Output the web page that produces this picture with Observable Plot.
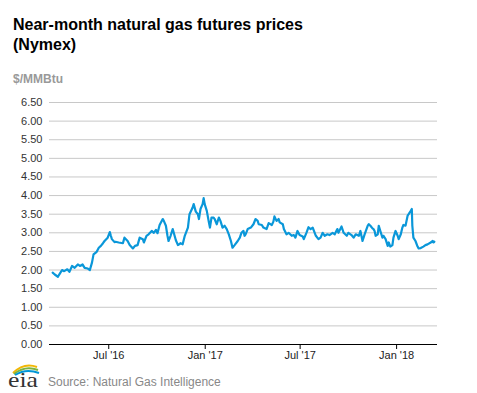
<!DOCTYPE html>
<html>
<head>
<meta charset="utf-8">
<script src="https://cdn.jsdelivr.net/npm/d3@7"></script>
<script src="https://cdn.jsdelivr.net/npm/@observablehq/plot@0.6"></script>
<style>
  html, body { margin: 0; padding: 0; background: #fff; }
  #wrap { position: relative; width: 477px; height: 393px; overflow: hidden; font-family: "Liberation Sans", Arial, sans-serif; }
  #title { position: absolute; left: 13px; top: 15px; font-size: 16px; font-weight: bold; line-height: 20px; color: #000; }
  #unit { position: absolute; left: 13px; top: 72px; font-size: 12px; font-weight: bold; color: #999; }
  #chart { position: absolute; left: 0; top: 90px; }
  #logo { position: absolute; left: 4px; top: 360px; }
  #source { position: absolute; left: 48px; top: 375px; font-size: 12px; color: #888; }
</style>
</head>
<body>
<div id="wrap">
  <div id="title">Near-month natural gas futures prices<br>(Nymex)</div>
  <div id="unit">$/MMBtu</div>
  <div id="chart"></div>
  <svg id="logo" width="42" height="32" viewBox="0 0 42 32">
    <path d="M9 13 Q20 2 33 7" fill="none" stroke="#f2b705" stroke-width="2"/>
    <path d="M10 14 Q21 5 34 10" fill="none" stroke="#7cb342" stroke-width="2"/>
    <path d="M11 15 Q22 8 35 13" fill="none" stroke="#0096d6" stroke-width="2"/>
    <text x="4" y="27" font-family="'Liberation Serif', 'DejaVu Serif', serif" font-size="21" fill="#333" textLength="30" lengthAdjust="spacingAndGlyphs">eia</text>
  </svg>
  <div id="source">Source: Natural Gas Intelligence</div>
</div>
<script>
const dates = [
  "2016-03-16","2016-03-20","2016-03-26","2016-03-30","2016-04-03","2016-04-07","2016-04-13","2016-04-17","2016-04-22","2016-04-27",
  "2016-05-03","2016-05-07","2016-05-12","2016-05-16","2016-05-22","2016-05-26","2016-05-30","2016-06-02","2016-06-08","2016-06-12",
  "2016-06-16","2016-06-20","2016-06-23","2016-06-29","2016-07-03","2016-07-05","2016-07-07","2016-07-12","2016-07-14","2016-07-20",
  "2016-07-28","2016-07-31","2016-08-06","2016-08-10","2016-08-16","2016-08-20","2016-08-25","2016-08-29","2016-09-04","2016-09-06",
  "2016-09-11","2016-09-15","2016-09-21","2016-09-25","2016-09-29","2016-10-02","2016-10-06","2016-10-12","2016-10-14","2016-10-18",
  "2016-10-21","2016-10-23","2016-10-27","2016-10-31","2016-11-02","2016-11-06","2016-11-10","2016-11-15","2016-11-19","2016-11-23",
  "2016-11-29","2016-12-02","2016-12-08","2016-12-10","2016-12-14","2016-12-18","2016-12-20","2016-12-23","2016-12-27","2016-12-29",
  "2016-12-31","2017-01-04","2017-01-08","2017-01-10","2017-01-13","2017-01-17","2017-01-19","2017-01-23","2017-01-27","2017-01-30",
  "2017-02-03","2017-02-07","2017-02-11","2017-02-15","2017-02-19","2017-02-22","2017-02-26","2017-03-04","2017-03-08","2017-03-11",
  "2017-03-15","2017-03-17","2017-03-19","2017-03-23","2017-03-29","2017-04-03","2017-04-07","2017-04-11","2017-04-13","2017-04-19",
  "2017-04-22","2017-04-28","2017-05-02","2017-05-08","2017-05-11","2017-05-13","2017-05-17","2017-05-21","2017-05-23","2017-05-29",
  "2017-05-31","2017-06-05","2017-06-09","2017-06-15","2017-06-19","2017-06-22","2017-06-26","2017-06-30","2017-07-06","2017-07-08",
  "2017-07-13","2017-07-17","2017-07-21","2017-07-25","2017-07-31","2017-08-05","2017-08-09","2017-08-13","2017-08-17","2017-08-22",
  "2017-08-26","2017-09-01","2017-09-05","2017-09-10","2017-09-12","2017-09-18","2017-09-22","2017-09-28","2017-10-01","2017-10-07",
  "2017-10-11","2017-10-15","2017-10-21","2017-10-24","2017-10-28","2017-11-01","2017-11-07","2017-11-09","2017-11-12","2017-11-16",
  "2017-11-18","2017-11-20","2017-11-22","2017-11-26","2017-11-28","2017-12-01","2017-12-05","2017-12-07","2017-12-11","2017-12-15",
  "2017-12-17","2017-12-20","2017-12-24","2017-12-26","2017-12-30","2018-01-03","2018-01-05","2018-01-09","2018-01-12","2018-01-14",
  "2018-01-18","2018-01-22","2018-01-24","2018-01-28","2018-01-30","2018-01-31","2018-02-02","2018-02-06","2018-02-10","2018-02-12",
  "2018-02-16","2018-02-21","2018-02-25","2018-03-01","2018-03-07","2018-03-11","2018-03-12","2018-03-14"
];
const prices = [
  1.93,1.88,1.82,1.91,2.00,1.97,2.02,1.95,2.11,2.06,
  2.15,2.11,2.15,2.06,2.04,2.00,2.20,2.42,2.49,2.60,
  2.65,2.72,2.78,2.87,3.02,2.92,2.83,2.75,2.76,2.74,
  2.72,2.87,2.78,2.67,2.58,2.65,2.67,2.87,2.83,2.74,
  2.92,2.96,3.05,3.00,3.08,2.99,3.21,3.37,3.32,3.19,
  2.92,2.78,2.92,3.10,3.00,2.80,2.67,2.72,2.69,2.92,
  3.14,3.50,3.68,3.77,3.57,3.50,3.37,3.64,3.77,3.93,
  3.77,3.59,3.28,3.14,3.41,3.41,3.37,3.23,3.41,3.32,
  3.14,3.19,3.10,2.96,2.78,2.60,2.67,2.78,2.87,3.00,
  3.05,2.92,2.96,3.10,3.14,3.23,3.37,3.32,3.23,3.21,
  3.14,3.10,3.26,3.21,3.30,3.44,3.32,3.37,3.28,3.23,
  3.10,2.96,3.00,2.92,2.94,2.87,3.05,2.94,2.90,2.83,
  3.00,3.15,3.10,3.14,2.92,2.83,2.87,3.00,2.92,2.96,
  2.94,3.00,2.96,3.10,3.00,3.17,3.00,2.92,3.00,2.94,
  2.87,2.96,2.92,3.05,2.78,2.96,3.19,3.23,3.19,3.12,
  3.10,3.05,2.92,2.96,3.19,3.05,2.87,2.92,2.83,2.65,
  2.74,2.63,2.67,2.87,3.05,2.92,2.83,2.96,3.14,3.21,
  3.19,3.46,3.50,3.59,3.64,3.19,2.87,2.78,2.63,2.58,
  2.59,2.63,2.67,2.69,2.74,2.78,2.74,2.76
];
const yTicks = d3.range(0, 6.5001, 0.5);
const xTicks = ["2016-07-01","2017-01-01","2017-07-01","2018-01-01"];
const xTickLabels = ["Jul '16","Jan '17","Jul '17","Jan '18"];
const xDomain = ["2016-03-10","2018-03-20"];

const parse = d3.utcParse("%Y-%m-%d");
const data = dates.map((d, i) => ({date: parse(d), price: prices[i]}));
const tickDates = xTicks.map(parse);
const labelMap = new Map(tickDates.map((d, i) => [+d, xTickLabels[i]]));

const chart = Plot.plot({
  width: 477,
  height: 282,
  marginTop: 12,
  marginBottom: 28,
  marginLeft: 49,
  marginRight: 40,
  style: {fontFamily: "'Liberation Sans', Arial, sans-serif", fontSize: "11px", color: "#333", background: "transparent"},
  x: {type: "utc", domain: xDomain.map(parse)},
  y: {domain: [0, 6.5]},
  marks: [
    Plot.gridY(yTicks, {stroke: "#c8c8c8", strokeOpacity: 1}),
    Plot.axisY(yTicks, {tickSize: 0, tickPadding: 7, tickFormat: d3.format(".2f"), label: null, fill: "#333"}),
    Plot.ruleY([0], {stroke: "#000", strokeWidth: 1.2}),
    Plot.axisX(tickDates, {tickSize: 5, tickPadding: 2, stroke: "#000", tickFormat: d => labelMap.get(+d), label: null, fill: "#222"}),
    Plot.line(data, {x: "date", y: "price", stroke: "#0a97d9", strokeWidth: 2.2})
  ]
});
document.getElementById("chart").appendChild(chart);
</script>
</body>
</html>
